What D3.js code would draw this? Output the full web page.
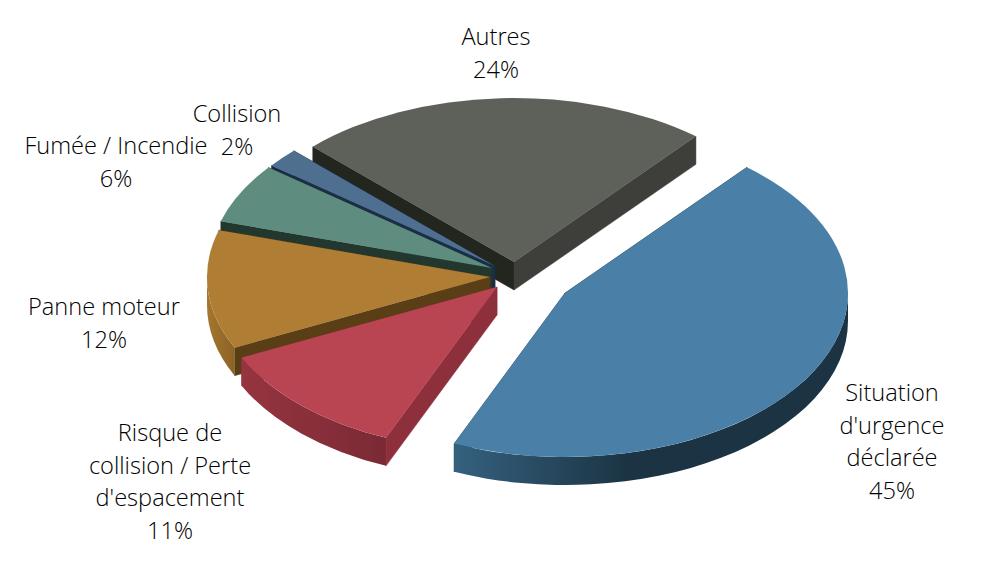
<!DOCTYPE html>
<html><head><meta charset="utf-8">
<script src="https://cdnjs.cloudflare.com/ajax/libs/d3/7.8.5/d3.min.js"></script>
<style>html,body{margin:0;background:#fff}svg{display:block}text{font-family:"Open Sans",sans-serif;font-weight:300;font-size:23.6px;fill:#000}</style>
</head><body><svg id="c" width="1000" height="565"></svg>
<script>
// data
const categories = ["Situation d'urgence déclarée","Risque de collision / Perte d'espacement","Panne moteur","Fumée / Incendie","Collision","Autres"];
const shares = [45.3,11.5,11.7,5.9,1.9,23.7];          // slice sweep
const percents = ["45%","11%","12%","6%","2%","24%"];
const labelLines = [["Situation","d'urgence","déclarée"],["Risque de","collision / Perte","d'espacement"],["Panne moteur"],["Fumée / Incendie"],["Collision"],["Autres"]];

// style + layout
const topColors = ["#4a80a8","#b94452","#b07d34","#5e8c7e","#4f6f90","#5e605a"];
const wallFrom  = ["#35617f","#96343f","#a5762f","#3c5a50","#2b3f55","#3c3c38"];
const wallTo    = ["#1b3342","#7a2a35","#8c6225","#2c4a40","#22344a","#3c3c38"];
const cutStart  = ["#1c3444","#8e2f3c","#5a3e16","#22382f","#1a2f47","#22261f"];
const cutEnd    = ["#24404f","#8e2f3c","#5a3e16","#22382f","#1a2f47","#3e3e3a"];
const apexes = [[565,293],[497,287],[490,277],[492,268],[495,266],[514,262]];
const labelPos = [[892,401],[170,441],[104,315],[116,154],[237,122],[496,45]];
const rx = 283, ry = 164, depth = 28, lineH = 32.7;
const rad = d => d*Math.PI/180;

const svg = d3.select("#c");
const defs = svg.append("defs");
const arcs = d3.pie().sort(null).startAngle(rad(40)).endAngle(rad(400))(shares);
const pt = (i,a,dy=0)=>[apexes[i][0]+rx*Math.sin(a), apexes[i][1]-ry*Math.cos(a)+dy];
const order = [5,4,3,2,1,0];

order.forEach(i=>{
  const d = arcs[i], g = svg.append("g");
  const [ax,ay] = apexes[i], s=d.startAngle, e=d.endAngle;
  const wall = (a,c)=>{const p=pt(i,a);
    g.append("path").attr("d",`M${ax},${ay}L${p[0]},${p[1]}L${p[0]},${p[1]+depth}L${ax},${ay+depth}Z`).attr("fill",c).attr("stroke",c).attr("stroke-width",.5);};
  wall(s,cutStart[i]); wall(e,cutEnd[i]);
  const lo=Math.max(s,Math.PI/2), hi=Math.min(e,Math.PI*1.5);
  if(hi>lo){
    const p0=pt(i,lo),p1=pt(i,hi);
    const id="w"+i, gr=defs.append("linearGradient").attr("id",id).attr("gradientUnits","userSpaceOnUse")
      .attr("x1",Math.min(p0[0],p1[0])).attr("x2",Math.max(p0[0],p1[0])).attr("y1",0).attr("y2",0);
    gr.append("stop").attr("offset",0).attr("stop-color",wallFrom[i]);
    gr.append("stop").attr("offset",i==0?.45:1).attr("stop-color",wallTo[i]);
    g.append("path").attr("d",`M${p0}A${rx},${ry} 0 0 1 ${p1}L${p1[0]},${p1[1]+depth}A${rx},${ry} 0 0 0 ${p0[0]},${p0[1]+depth}Z`).attr("fill",`url(#${id})`);
  }
  const a=pt(i,s),b=pt(i,e);
  g.append("path").attr("d",`M${ax},${ay}L${a}A${rx},${ry} 0 ${e-s>Math.PI?1:0} 1 ${b}Z`).attr("fill",topColors[i]);
});

categories.forEach((c,i)=>{
  const t = svg.append("text").attr("text-anchor","middle").attr("aria-label",c);
  labelLines[i].concat(percents[i]).forEach((l,k)=>
    t.append("tspan").attr("x",labelPos[i][0]).attr("y",labelPos[i][1]+k*lineH).text(l));
});
</script></body></html>
